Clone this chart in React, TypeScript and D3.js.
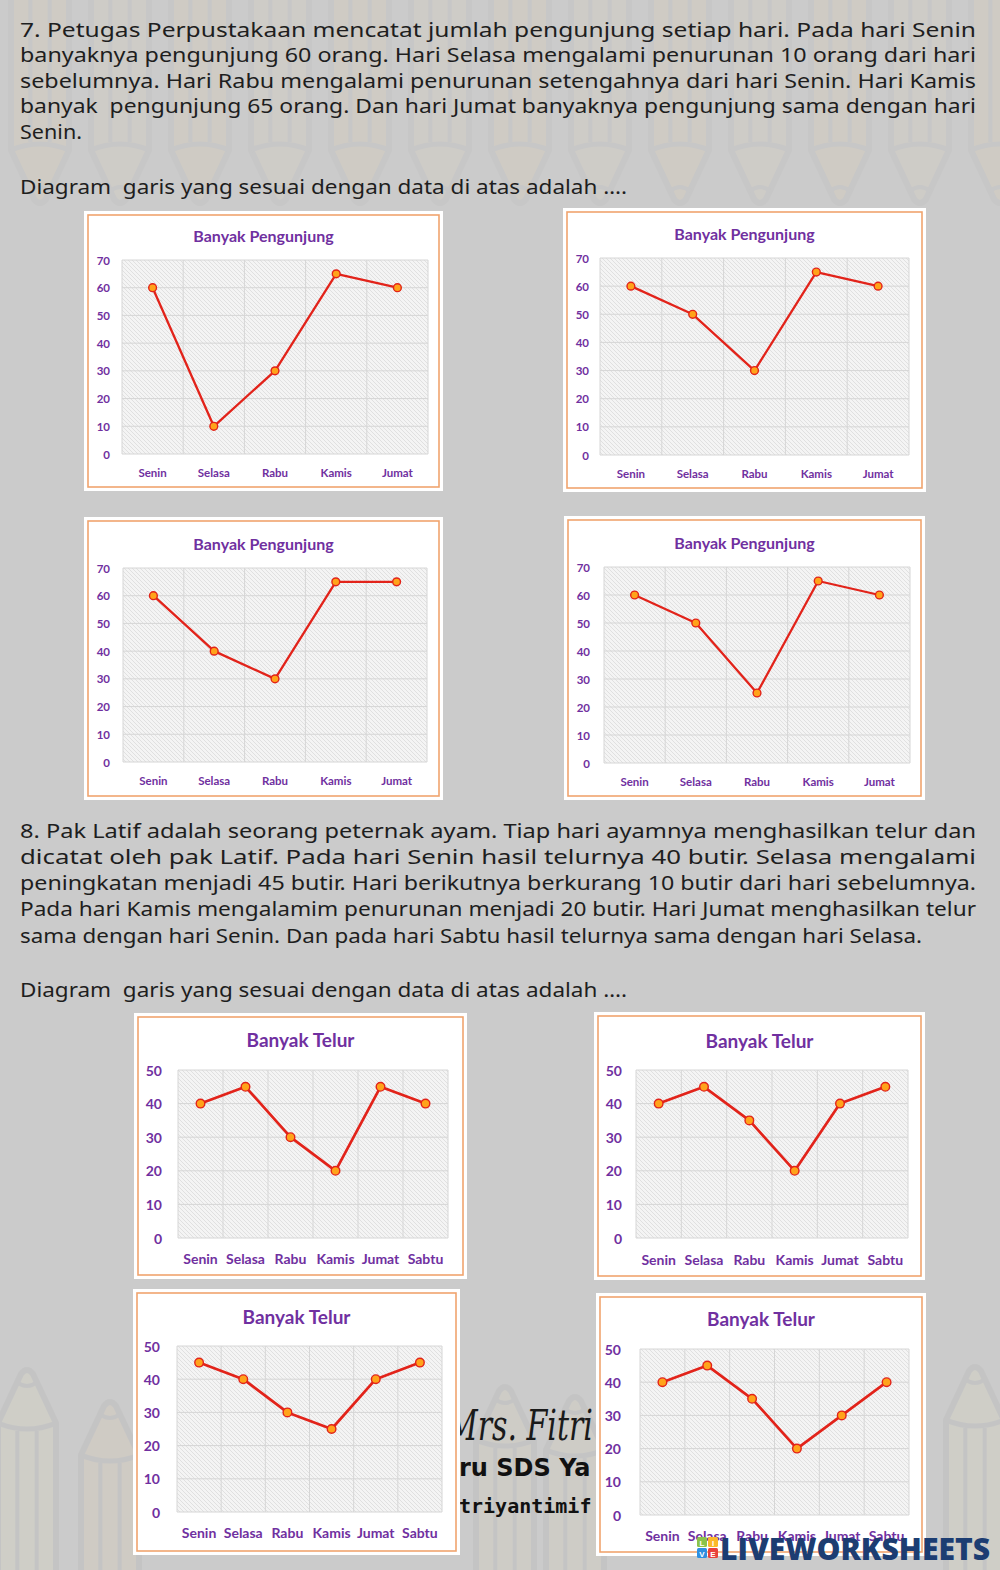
import React from 'react';
import * as d3 from 'd3';

// ---------- DATA ----------
const daysQ7 = ['Senin', 'Selasa', 'Rabu', 'Kamis', 'Jumat'];
const daysQ8 = ['Senin', 'Selasa', 'Rabu', 'Kamis', 'Jumat', 'Sabtu'];

const q7ChartA = [60, 10, 30, 65, 60];
const q7ChartB = [60, 50, 30, 65, 60];
const q7ChartC = [60, 40, 30, 65, 65];
const q7ChartD = [60, 50, 25, 65, 60];

const q8ChartA = [40, 45, 30, 20, 45, 40];
const q8ChartB = [40, 45, 35, 20, 40, 45];
const q8ChartC = [45, 40, 30, 25, 40, 45];
const q8ChartD = [40, 45, 35, 20, 30, 40];

const q7Ticks = [0, 10, 20, 30, 40, 50, 60, 70];
const q8Ticks = [0, 10, 20, 30, 40, 50];

const titleQ7 = 'Banyak Pengunjung';
const titleQ8 = 'Banyak Telur';

const q7Lines = [
  '7. Petugas Perpustakaan mencatat jumlah pengunjung setiap hari. Pada hari Senin',
  'banyaknya pengunjung 60 orang. Hari Selasa mengalami penurunan 10 orang dari hari',
  'sebelumnya. Hari Rabu mengalami penurunan setengahnya dari hari Senin. Hari Kamis',
  'banyak  pengunjung 65 orang. Dan hari Jumat banyaknya pengunjung sama dengan hari',
  'Senin.',
];
const q8Lines = [
  '8. Pak Latif adalah seorang peternak ayam. Tiap hari ayamnya menghasilkan telur dan',
  'dicatat oleh pak Latif. Pada hari Senin hasil telurnya 40 butir. Selasa mengalami',
  'peningkatan menjadi 45 butir. Hari berikutnya berkurang 10 butir dari hari sebelumnya.',
  'Pada hari Kamis mengalamim penurunan menjadi 20 butir. Hari Jumat menghasilkan telur',
  'sama dengan hari Senin. Dan pada hari Sabtu hasil telurnya sama dengan hari Selasa.',
];
const promptText = 'Diagram  garis yang sesuai dengan data di atas adalah ….';

// ---------- LAYOUT ----------
type Layout = {
  bx0: number; bx1: number; by0: number; by1: number;
  px0: number; px1: number; py0: number; py1: number;
  titleY: number; xLabY: number; yLabX: number;
  titleSize: number; labSize: number; r: number; lw: number;
};

const q7Layouts: Layout[] = [
  { bx0: 88, bx1: 439, by0: 215, by1: 487, px0: 122, px1: 428, py0: 260, py1: 454, titleY: 235, xLabY: 472, yLabX: 110, titleSize: 16, labSize: 11.5, r: 3.9, lw: 2.3 },
  { bx0: 567, bx1: 922, by0: 212, by1: 488, px0: 600, px1: 909, py0: 258, py1: 455, titleY: 233, xLabY: 473, yLabX: 589, titleSize: 16, labSize: 11.5, r: 3.9, lw: 2.3 },
  { bx0: 88, bx1: 439, by0: 521, by1: 796, px0: 123, px1: 427, py0: 568, py1: 762, titleY: 543, xLabY: 780, yLabX: 110, titleSize: 16, labSize: 11.5, r: 3.9, lw: 2.3 },
  { bx0: 568, bx1: 921, by0: 520, by1: 796, px0: 604, px1: 910, py0: 567, py1: 763, titleY: 542, xLabY: 781, yLabX: 590, titleSize: 16, labSize: 11.5, r: 3.9, lw: 2.3 },
];
const q8Layouts: Layout[] = [
  { bx0: 138, bx1: 463, by0: 1017, by1: 1275, px0: 178, px1: 448, py0: 1070, py1: 1238, titleY: 1039, xLabY: 1258, yLabX: 162, titleSize: 19, labSize: 14, r: 4.3, lw: 2.7 },
  { bx0: 598, bx1: 921, by0: 1016, by1: 1276, px0: 636, px1: 908, py0: 1070, py1: 1238, titleY: 1040, xLabY: 1259, yLabX: 622, titleSize: 19, labSize: 14, r: 4.3, lw: 2.7 },
  { bx0: 137, bx1: 456, by0: 1293, by1: 1551, px0: 177, px1: 442, py0: 1346, py1: 1512, titleY: 1316, xLabY: 1532, yLabX: 160, titleSize: 19, labSize: 14, r: 4.3, lw: 2.7 },
  { bx0: 600, bx1: 922, by0: 1297, by1: 1552, px0: 640, px1: 909, py0: 1349, py1: 1515, titleY: 1318, xLabY: 1535, yLabX: 621, titleSize: 19, labSize: 14, r: 4.3, lw: 2.7 },
];

const PURPLE = '#7030a0';
const RED = '#e2231a';
const ORANGE_FILL = '#ffa31a';

function LineChart({ L, cats, values, ticks, title }: { L: Layout; cats: string[]; values: number[]; ticks: number[]; title: string }) {
  const x = d3.scaleBand<string>().domain(cats).range([L.px0, L.px1]);
  const y = d3.scaleLinear().domain([0, d3.max(ticks) as number]).range([L.py1, L.py0]);
  const cx = (c: string) => (x(c) as number) + x.bandwidth() / 2;
  const line = d3.line<number>().x((_, i) => cx(cats[i])).y((d) => y(d));
  const bounds = cats.map((c) => x(c) as number).concat([L.px1]);
  const font = 'Lato, "Open Sans", sans-serif';
  return (
    <g>
      <rect x={L.bx0 - 4} y={L.by0 - 4} width={L.bx1 - L.bx0 + 8} height={L.by1 - L.by0 + 8} fill="#ffffff" />
      <rect x={L.bx0} y={L.by0} width={L.bx1 - L.bx0} height={L.by1 - L.by0} fill="#ffffff" stroke="#f0a46e" strokeWidth={1.6} />
      <text x={(L.bx0 + L.bx1) / 2} y={L.titleY} textAnchor="middle" dominantBaseline="central" fontFamily={font} fontWeight={700} fontSize={L.titleSize} fill={PURPLE}>{title}</text>
      <rect x={L.px0} y={L.py0} width={L.px1 - L.px0} height={L.py1 - L.py0} fill="url(#hatch)" />
      {ticks.map((t) => (
        <line key={'h' + t} x1={L.px0} x2={L.px1} y1={y(t)} y2={y(t)} stroke="#d6d6d6" strokeWidth={1} />
      ))}
      {bounds.map((b, i) => (
        <line key={'v' + i} x1={b} x2={b} y1={L.py0} y2={L.py1} stroke="#d6d6d6" strokeWidth={1} />
      ))}
      {ticks.map((t) => (
        <text key={'yl' + t} x={L.yLabX} y={y(t)} textAnchor="end" dominantBaseline="central" fontFamily={font} fontWeight={700} fontSize={L.labSize} fill={PURPLE}>{t}</text>
      ))}
      {cats.map((c) => (
        <text key={'xl' + c} x={cx(c)} y={L.xLabY} textAnchor="middle" dominantBaseline="central" fontFamily={font} fontWeight={700} fontSize={L.labSize} fill={PURPLE}>{c}</text>
      ))}
      <path d={line(values) as string} fill="none" stroke={RED} strokeWidth={L.lw} strokeLinejoin="round" />
      {values.map((v, i) => (
        <circle key={'p' + i} cx={cx(cats[i])} cy={y(v)} r={L.r} fill={ORANGE_FILL} stroke={RED} strokeWidth={1.4} />
      ))}
    </g>
  );
}

function Pencil({ cx, tipY, w, len, down, tint, op }: { cx: number; tipY: number; w: number; len: number; down?: boolean; tint: string; op: number }) {
  const s = down ? -1 : 1;
  const cone = w * 0.95;
  const h = w / 2;
  const baseY = tipY + s * cone;
  const endY = baseY + s * len;
  const d = `M${cx - 6},${tipY + s * 6} Q${cx},${tipY - s * 2} ${cx + 6},${tipY + s * 6} L${cx + h},${baseY} L${cx + h},${endY} L${cx - h},${endY} L${cx - h},${baseY} Z`;
  const st = '#bdbdbd';
  return (
    <g opacity={op}>
      <path d={d} fill={tint} stroke={st} strokeWidth={6} strokeLinejoin="round" />
      <path d={`M${cx - h},${baseY} Q${cx},${baseY + s * 12} ${cx + h},${baseY}`} fill="none" stroke={st} strokeWidth={5} />
      <path d={`M${cx - w / 6},${baseY + s * 8} L${cx - w / 6},${endY} M${cx + w / 6},${baseY + s * 8} L${cx + w / 6},${endY}`} stroke={st} strokeWidth={4} />
      <path d={`M${cx - 10},${tipY + s * 14} Q${cx},${tipY + s * 22} ${cx + 10},${tipY + s * 14}`} fill="none" stroke={st} strokeWidth={4} />
    </g>
  );
}

const topPencilX = [40, 120, 200, 280, 360, 440, 520, 600, 680, 760, 840, 920, 1000];

export default function App() {
  const textFont = '"Noto Sans", "Open Sans", sans-serif';
  const q7Data = [q7ChartA, q7ChartB, q7ChartC, q7ChartD];
  const q8Data = [q8ChartA, q8ChartB, q8ChartC, q8ChartD];
  const q7Base = [37, 62, 88, 113, 139];
  const q8Base = [838, 864, 890, 916, 943];
  return (
    <svg width={1000} height={1570} viewBox="0 0 1000 1570" style={{ position: 'absolute', left: 0, top: 0, display: 'block' }}>
      <defs>
        <pattern id="hatch" patternUnits="userSpaceOnUse" width={4} height={4}>
          <rect width={4} height={4} fill="#f4f4f4" />
          <path d="M0,0 L4,4 M-1,3 L1,5 M3,-1 L5,1" stroke="#dadada" strokeWidth={0.8} />
        </pattern>
        <clipPath id="gap">
          <rect x={440} y={1360} width={158} height={170} />
        </clipPath>
      </defs>
      <rect x={0} y={0} width={1000} height={1570} fill="#cbcbcb" />
      {/* background pencils */}
      {topPencilX.map((px, i) => (
        <Pencil key={'tp' + i} cx={px} tipY={205} w={58} len={170} down op={0.28} tint={i % 2 ? '#d8cfbd' : '#dccdb3'} />
      ))}
      <Pencil cx={27} tipY={1368} w={58} len={260} op={0.45} tint="#d4d3c4" />
      <Pencil cx={110} tipY={1400} w={58} len={260} op={0.45} tint="#d5cbbd" />
      <Pencil cx={505} tipY={1385} w={58} len={260} op={0.45} tint="#d2cfc2" />
      <Pencil cx={575} tipY={1395} w={58} len={260} op={0.45} tint="#d2cfc2" />
      <Pencil cx={975} tipY={1365} w={58} len={260} op={0.45} tint="#d4d3c4" />

      {/* question 7 text */}
      {q7Lines.map((t, i) => (
        <text key={'q7' + i} x={20} y={q7Base[i]} fontFamily={textFont} fontSize={19.5} fill="#1e1e1e"
          textLength={i < 4 ? 956 : 62} lengthAdjust="spacingAndGlyphs" style={{ whiteSpace: 'pre' }}>{t}</text>
      ))}
      <text x={20} y={194} fontFamily={textFont} fontSize={19.5} fill="#1e1e1e" textLength={607} lengthAdjust="spacingAndGlyphs" style={{ whiteSpace: 'pre' }}>{promptText}</text>

      {q7Layouts.map((L, i) => (
        <LineChart key={'c7' + i} L={L} cats={daysQ7} values={q7Data[i]} ticks={q7Ticks} title={titleQ7} />
      ))}

      {/* question 8 text */}
      {q8Lines.map((t, i) => (
        <text key={'q8' + i} x={20} y={q8Base[i]} fontFamily={textFont} fontSize={19.5} fill="#1e1e1e"
          textLength={i < 4 ? 956 : 902} lengthAdjust="spacingAndGlyphs">{t}</text>
      ))}
      <text x={20} y={997} fontFamily={textFont} fontSize={19.5} fill="#1e1e1e" textLength={607} lengthAdjust="spacingAndGlyphs" style={{ whiteSpace: 'pre' }}>{promptText}</text>

      {/* watermark (partly hidden between the charts) */}
      <g clipPath="url(#gap)">
        <text transform="translate(447,1440) scale(1,1.45)" x={0} y={0} fontFamily='"DejaVu Serif", serif' fontStyle="italic" fontSize={30} fill="#1a1a1a">Mrs. Fitri</text>
        <text x={459} y={1476} fontFamily='"DejaVu Sans", sans-serif' fontWeight={700} fontSize={24} fill="#111">ru SDS Ya</text>
        <text x={459} y={1513} fontFamily='"DejaVu Sans Mono", monospace' fontWeight={700} fontSize={20} fill="#111">triyantimif</text>
      </g>

      {q8Layouts.map((L, i) => (
        <LineChart key={'c8' + i} L={L} cats={daysQ8} values={q8Data[i]} ticks={q8Ticks} title={titleQ8} />
      ))}

      {/* logo */}
      <g>
        <rect x={697} y={1537} width={10} height={10} rx={1.5} fill="#8bc34a" />
        <rect x={708} y={1537} width={10} height={10} rx={1.5} fill="#fbb829" />
        <rect x={697} y={1548} width={10} height={10} rx={1.5} fill="#2f8fe0" />
        <rect x={708} y={1548} width={10} height={10} rx={1.5} fill="#e8413c" />
        <text x={702} y={1545.5} textAnchor="middle" fontFamily="sans-serif" fontWeight={700} fontSize={8} fill="#fff">L</text>
        <text x={713} y={1545.5} textAnchor="middle" fontFamily="sans-serif" fontWeight={700} fontSize={8} fill="#fff">I</text>
        <text x={702} y={1556.5} textAnchor="middle" fontFamily="sans-serif" fontWeight={700} fontSize={8} fill="#fff">V</text>
        <text x={713} y={1556.5} textAnchor="middle" fontFamily="sans-serif" fontWeight={700} fontSize={8} fill="#fff">E</text>
        <text x={720} y={1560} fontFamily='"Open Sans", sans-serif' fontWeight={800} fontSize={30} fill="#1c3d72" textLength={270} lengthAdjust="spacingAndGlyphs">LIVEWORKSHEETS</text>
      </g>
    </svg>
  );
}
